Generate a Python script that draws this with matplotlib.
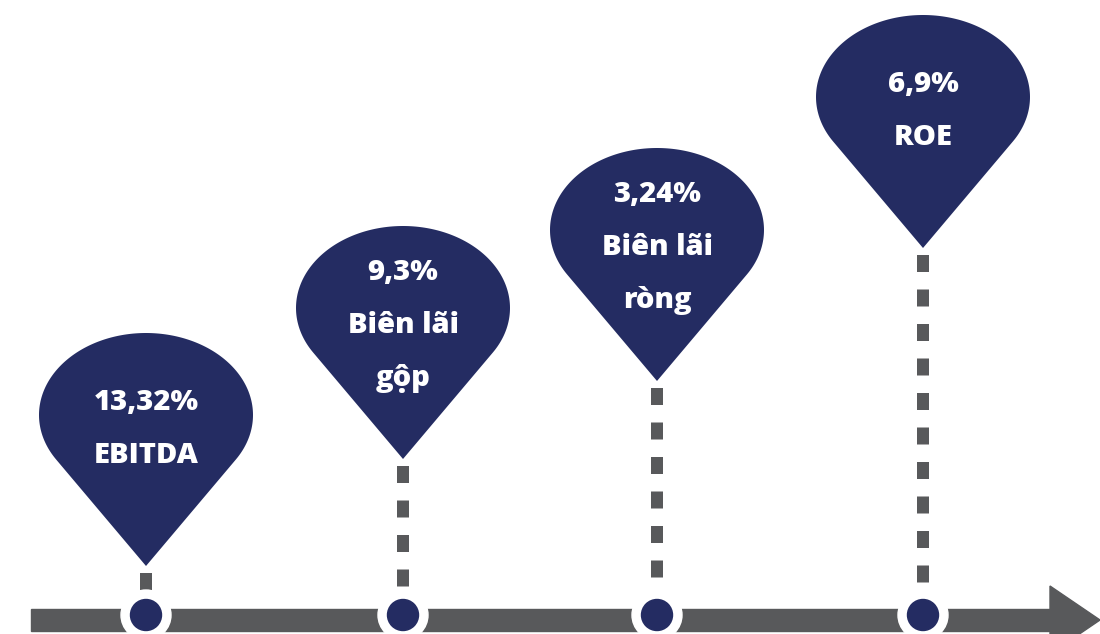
import numpy as np
import matplotlib
matplotlib.use("Agg")
import matplotlib.pyplot as plt
from matplotlib.patches import Polygon, Circle, Rectangle

plt.rcParams['font.family'] = ['Open Sans', 'DejaVu Sans']
plt.rcParams['lines.scale_dashes'] = False

# chi so
values = ["13,32%", "9,3%", "3,24%", "6,9%"]
names = [["EBITDA"], ["Biên lãi", "gộp"], ["Biên lãi", "ròng"], ["ROE"]]

# bo cuc (pixel)
pin_x = [146, 403, 657, 923]
pin_top = [333, 226, 148, 15]
navy = "#242c62"
gray = "#58595b"

W, H = 1100, 634
fig = plt.figure(figsize=(W / 100, H / 100), dpi=100)
ax = fig.add_axes([0, 0, 1, 1])
ax.set_xlim(0, W)
ax.set_ylim(H, 0)
ax.axis("off")

rx, ry = 107, 82
tip_off = 151
bar_y = 620
dot_y = 615

# truc thoi gian
ax.add_patch(Rectangle((31, 609), 1050 - 31, 22, color=gray, zorder=1))
ax.add_patch(Polygon([(1050, 586), (1100, bar_y), (1050, 654)], closed=True, color=gray, zorder=1))


def pin(cx, top):
    cy = top + ry
    k = ry / tip_off
    phi = np.arcsin(k)  # goc tiep tuyen
    t = np.linspace(phi, np.pi - phi - 2 * np.pi, 200)
    xs = cx + rx * np.cos(t)
    ys = cy + ry * np.sin(t)
    pts = list(zip(xs, ys)) + [(cx, cy + tip_off)]
    return Polygon(pts, closed=True, color=navy, zorder=3, lw=0)


for i in range(len(values)):
    cx = pin_x[i]
    top = pin_top[i]
    tip = top + ry + tip_off
    ax.add_patch(pin(cx, top))
    ax.plot([cx, cx], [tip + 7, 600], color=gray, lw=12 * 0.72,
            linestyle=(0, (17 * 0.72, 17.5 * 0.72)), solid_capstyle="butt",
            dash_capstyle="butt", zorder=2)
    ax.add_patch(Circle((cx, dot_y), 25, color="white", zorder=4))
    ax.add_patch(Circle((cx, dot_y), 15.5, color=navy, zorder=5))

    lines = [values[i]] + names[i]
    base = top + (77 if len(lines) == 2 else 54)
    for j, s in enumerate(lines):
        ax.text(cx, base + j * 53, s, color="white", fontsize=21, fontweight="heavy",
                ha="center", va="baseline", zorder=6)

fig.savefig("out.png", dpi=100)
